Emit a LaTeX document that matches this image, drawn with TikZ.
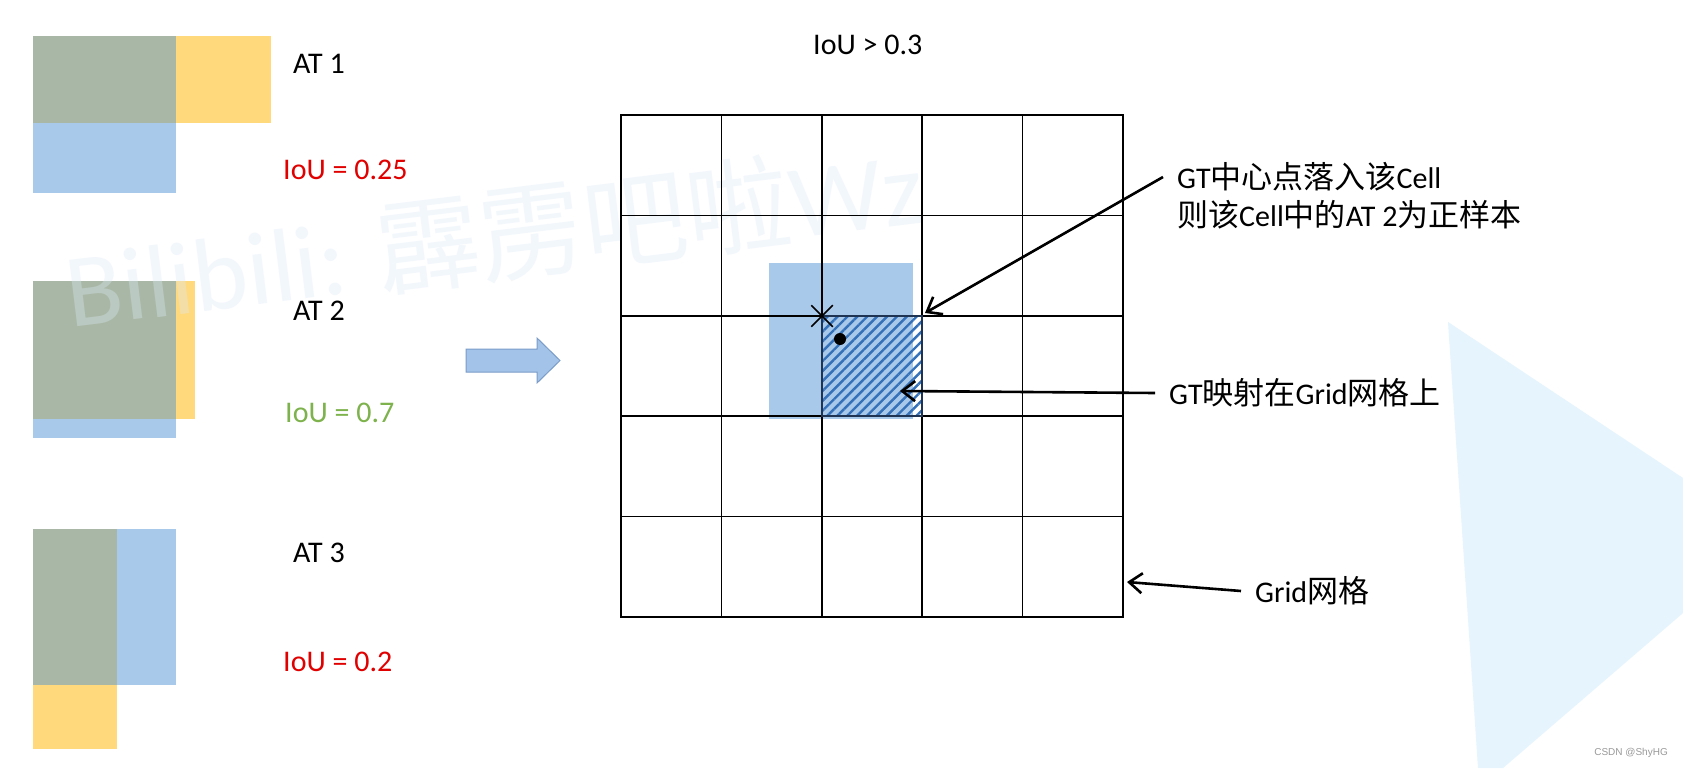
\documentclass[tikz,border=0pt]{standalone}
\usepackage{fontspec}
\setmainfont{Carlito}
\newfontfamily\cjk{Noto Sans CJK SC}
\newfontfamily\markfont{Liberation Sans}
\usetikzlibrary{arrows.meta,patterns.meta,shapes.misc,positioning}
\newcommand{\zh}[1]{{\cjk\fontsize{31}{36}\selectfont #1}}
\definecolor{gtblue}{HTML}{A9C9EB}
\definecolor{atyellow}{HTML}{FFD97B}
\definecolor{overlap}{HTML}{A9B8A6}
\definecolor{ioured}{HTML}{E00000}
\definecolor{iougreen}{HTML}{7DB24C}
\definecolor{hatchblue}{HTML}{3471B8}
\definecolor{celledge}{HTML}{1F3352}
\definecolor{arrowfill}{HTML}{A4C3E8}
\definecolor{arrowedge}{HTML}{7A9CC8}
\definecolor{bgtri}{HTML}{E5F4FD}
\definecolor{wmblue}{HTML}{DCE9F8}
\begin{document}
\begin{tikzpicture}[x=1pt, y=-1pt,
    atlabel/.style={anchor=west, inner sep=0pt, font=\fontsize{30}{36}\selectfont},
    ioulabel/.style={atlabel, text=#1},
    note/.style={anchor=west, inner xsep=14pt, inner ysep=0pt, font=\fontsize{30}{36}\selectfont},
    gridline/.style={line width=1.6pt, line cap=rect},
    pointer/.style={-{Straight Barb[length=13pt, width=20pt]}, line width=2.6pt},
  ]
  \useasboundingbox (0,0) rectangle (1683,768);
  \fill[white] (0,0) rectangle (1683,768);
  \fill[bgtri] (1448,322) -- (1683,478) -- (1683,613) -- (1503,768) -- (1478,768) -- cycle;

  % anchor boxes against the GT box
  \fill[gtblue] (33,36) rectangle (176,193);
  \fill[atyellow] (33,36) rectangle (271,123);
  \fill[overlap] (33,36) rectangle (176,123);
  \fill[gtblue] (33,281) rectangle (176,438);
  \fill[atyellow] (33,281) rectangle (195,419);
  \fill[overlap] (33,281) rectangle (176,419);
  \fill[gtblue] (33,529) rectangle (176,685);
  \fill[atyellow] (33,529) rectangle (117,749);
  \fill[overlap] (33,529) rectangle (117,685);

  \node[rotate=7, text=wmblue, text opacity=0.35, font=\fontsize{104}{104}\selectfont] (watermark)
    at (494,236) {Bilibili: {\cjk 霹雳吧啦}Wz};

  \node[atlabel] (at1) at (293,64) {AT 1};
  \node[ioulabel=ioured] (iou1) at (283,170) {IoU = 0.25};
  \node[atlabel] (at2) at (293,311) {AT 2};
  \node[ioulabel=iougreen] (iou2) at (285,413) {IoU = 0.7};
  \node[atlabel] (at3) at (293,553) {AT 3};
  \node[ioulabel=ioured] (iou3) at (283,662) {IoU = 0.2};
  \node[atlabel] (thresh) at (813,45) {IoU > 0.3};

  \filldraw[fill=arrowfill, draw=arrowedge, line width=1pt]
    (466,349) -- (537,349) -- (537,338) -- (560,360.5) -- (537,383) -- (537,372) -- (466,372) -- cycle;

  % GT on the grid
  \fill[gtblue] (769,263) rectangle (913,419);
  \fill[pattern={Lines[angle=45, distance=7pt, line width=2.4pt]}, pattern color=hatchblue]
    (822,316) rectangle (922,416);
  \foreach \k in {0,...,5}{
    \draw[gridline] ({621+100.4*\k},115) -- ({621+100.4*\k},617);
    \draw[gridline] (621,{115+100.4*\k}) -- (1123,{115+100.4*\k});
  }
  \draw[celledge, line width=2.8pt] (822,316) rectangle (922,416);
  \node[cross out, draw, minimum size=20pt, inner sep=0pt, line width=1.5pt] (centremark) at (822,316) {};
  \node[circle, fill, inner sep=0pt, minimum size=12pt] (gtcentre) at (840,339) {};

  \coordinate (cellne) at (925,313);
  \coordinate (cellmid) at (900,391);
  \coordinate (gridedge) at (1127,582);

  \node[note] (celltxt) at (1163,177) {GT\zh{中心点落入该}Cell};
  \node[note] (celltxtb) at (1163,215) {\zh{则该}Cell\zh{中的}AT 2\zh{为正样本}};
  \node[note] (maptxt) at (1155,393) {GT\zh{映射在}Grid\zh{网格上}};
  \node[note] (gridtxt) at (1241,591) {Grid\zh{网格}};
  \draw[pointer] (celltxt.west) -- (cellne);
  \draw[pointer] (maptxt.west) -- (cellmid);
  \draw[pointer] (gridtxt.west) -- (gridedge);

  \node[anchor=east, inner sep=0pt, text=gray!80, font=\markfont\fontsize{10}{12}\selectfont] (credit)
    at (1668,753) {CSDN @ShyHG};
\end{tikzpicture}
\end{document}
